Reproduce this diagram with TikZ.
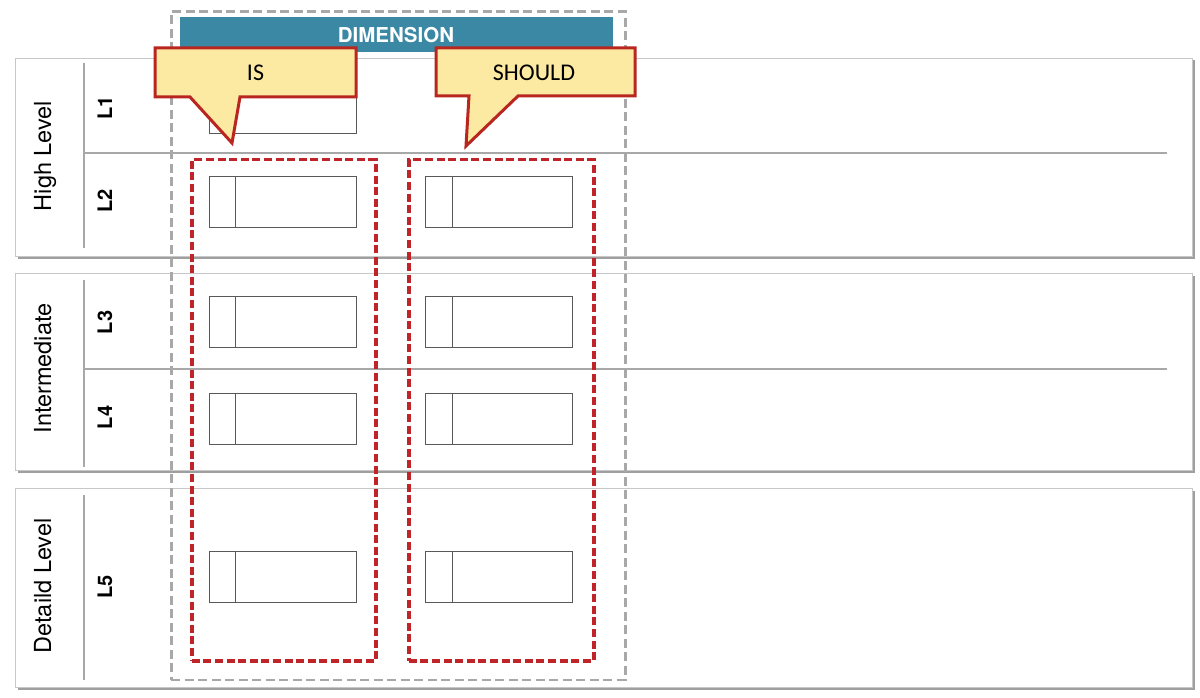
\documentclass[tikz,border=0pt]{standalone}
\usepackage{fontspec}
\setmainfont{TeX Gyre Heros}
\newfontfamily\calloutfont{Carlito}
\usetikzlibrary{shadows}
\definecolor{teal0}{HTML}{3B88A5}
\definecolor{callfill}{HTML}{FCE9A2}
\definecolor{callline}{HTML}{B8261F}
\definecolor{reddash}{HTML}{BF2429}
\definecolor{graydash}{HTML}{A8A8A8}
\definecolor{pline}{HTML}{A8A8A8}
\begin{document}
\begin{tikzpicture}[x=1pt,y=-1pt,
  panel/.style={draw=black!22, fill=white, line width=0.8pt, inner sep=0pt, outer sep=0pt,
    minimum width=1177pt, anchor=north west,
    drop shadow={shadow xshift=2.5pt, shadow yshift=-2.5pt, fill=black!50, opacity=0.75}},
  panelline/.style={draw=pline, line width=1.1pt},
  cell/.style={draw=black!65, line width=0.8pt, fill=white, minimum width=147pt, minimum height=51pt,
    inner sep=0pt,
    path picture={\draw[black!65, line width=0.8pt] ([xshift=26.5pt]path picture bounding box.north west) -- ([xshift=26.5pt]path picture bounding box.south west);}},
  cellplain/.style={draw=black!65, line width=0.8pt, fill=white, minimum width=147pt, minimum height=51pt, inner sep=0pt},
  grouplabel/.style={rotate=90, anchor=base, font=\fontsize{23.5}{26}\selectfont},
  levellabel/.style={rotate=90, anchor=base, font=\fontsize{20}{22}\selectfont\bfseries},
  graybox/.style={draw=graydash, line width=2.7pt, dash pattern=on 9pt off 4.5pt},
  redbox/.style={draw=reddash, line width=3.5pt, dash pattern=on 8pt off 3.6pt},
  callout/.style={draw=callline, fill=callfill, line width=3pt, line join=miter},
  callouttext/.style={anchor=base, font=\calloutfont\fontsize{24}{26}\selectfont}
]
\useasboundingbox (0,0) rectangle (1200,698);
\fill[white] (0,0) rectangle (1200,698);

% panels
\node[panel, minimum height=198pt] (p1) at (15,58) {};
\node[panel, minimum height=197pt] (p2) at (15,273) {};
\node[panel, minimum height=199pt] (p3) at (15,488) {};

% vertical dividers
\coordinate (d1a) at (84,63);  \coordinate (d1b) at (84,248);
\coordinate (d2a) at (84,280); \coordinate (d2b) at (84,467);
\coordinate (d3a) at (84,495); \coordinate (d3b) at (84,680);
\draw[panelline] (d1a) -- (d1b);
\draw[panelline] (d2a) -- (d2b);
\draw[panelline] (d3a) -- (d3b);
% horizontal dividers
\coordinate (h1a) at (84,153); \coordinate (h1b) at (1167,153);
\coordinate (h2a) at (84,369); \coordinate (h2b) at (1167,369);
\draw[panelline] (h1a) -- (h1b);
\draw[panelline] (h2a) -- (h2b);

% group labels
\node[grouplabel] (gHigh) at (51,156) {High Level};
\node[grouplabel] (gInt) at (51,368.5) {Intermediate};
\node[grouplabel] (gDet) at (51,586) {Detaild Level};

% level labels
\node[levellabel] (lL1) at (112,108) {L1};
\node[levellabel] (lL2) at (112,201) {L2};
\node[levellabel] (lL3) at (112,322.5) {L3};
\node[levellabel] (lL4) at (112,417.5) {L4};
\node[levellabel] (lL5) at (112,587) {L5};

% dimension frame
\node[graybox, minimum width=454pt, minimum height=668pt, inner sep=0pt, anchor=north west] (dimframe) at (170,10.5) {};
\node[fill=teal0, minimum width=433pt, minimum height=35pt, inner sep=0pt, anchor=north west] (dimhead) at (180,17) {};
\node[text=white, font=\fontsize{20.5}{22}\selectfont\bfseries] (dimtext) at (396,35.5) {DIMENSION};

% red dashed groups
\node[redbox, minimum width=184pt, minimum height=501pt, inner sep=0pt, anchor=north west] (isgroup) at (190,158) {};
\node[redbox, minimum width=185pt, minimum height=501pt, inner sep=0pt, anchor=north west] (shgroup) at (407,158) {};

% cells
\node[cellplain] (is1) at (282.5,107.5) {};
\node[cell] (is2) at (282.5,202) {};
\node[cell] (is3) at (282.5,321.5) {};
\node[cell] (is4) at (282.5,418.5) {};
\node[cell] (is5) at (282.5,577) {};
\node[cell] (sh2) at (499,202) {};
\node[cell] (sh3) at (499,321.5) {};
\node[cell] (sh4) at (499,418.5) {};
\node[cell] (sh5) at (499,577) {};

% callouts
\coordinate (isTip) at (232,143);
\draw[callout] (155,48) -- (356,48) -- (356,97) -- (240,97) -- (isTip) -- (190,97) -- (155,97) -- cycle;
\node[callouttext] (isText) at (255.5,80.5) {IS};
\coordinate (shTip) at (466,146);
\draw[callout] (436,48) -- (635,48) -- (635,96) -- (518,96) -- (shTip) -- (469,96) -- (436,96) -- cycle;
\node[callouttext] (shText) at (534,80.5) {SHOULD};
\end{tikzpicture}
\end{document}
